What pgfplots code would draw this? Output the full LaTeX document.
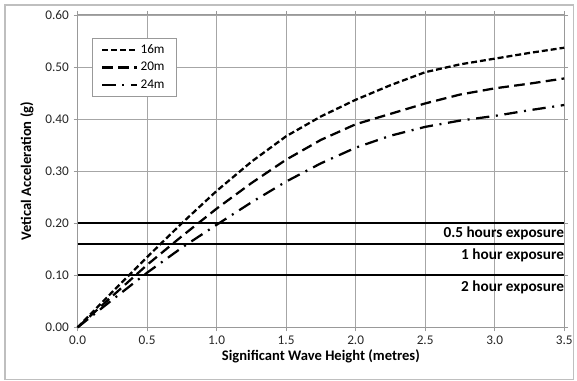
\documentclass[border=0pt]{standalone}
\usepackage{fontspec}
\setmainfont{Carlito}
\usepackage{pgfplots}
\pgfplotsset{compat=1.18}
\begin{document}
\begin{tikzpicture}
\begin{axis}[
  scale only axis,
  width=366.75pt, height=235.5pt,
  xmin=0, xmax=3.5, ymin=0, ymax=0.6,
  xtick={0,0.5,...,3.5}, ytick={0,0.1,...,0.6},
  /pgf/number format/assume math mode=true,
  xticklabel style={/pgf/number format/.cd, fixed, fixed zerofill, precision=1},
  yticklabel style={/pgf/number format/.cd, fixed, fixed zerofill, precision=2},
  tick label style={font=\fontsize{10}{11}\selectfont, color=black!85},
  grid=major,
  grid style={gray!70, line width=0.5pt},
  axis line style={gray!80, line width=0.8pt},
  tick style={gray!80, line width=0.5pt},
  tick align=outside, major tick length=3pt,
  xlabel={\textbf{Significant Wave Height (metres)}},
  ylabel={\textbf{Vetical Acceleration (g)}},
  label style={font=\fontsize{11}{12}\selectfont},
  xlabel style={yshift=3pt},
  ylabel style={yshift=2pt},
  clip=false,
  legend cell align=left,
  legend style={at={(0.0286,0.927)}, anchor=north west, draw=gray!80, line width=0.5pt,
    font=\fontsize{10}{11}\selectfont, row sep=1pt, inner xsep=7pt, inner ysep=3pt},
  legend image code/.code={\draw[#1] (0pt,0pt) -- (26pt,0pt);},
]
\addplot[black, line width=1.7pt, dash pattern=on 4.5pt off 2.25pt] coordinates {
(0,0) (0.25,0.068) (0.5,0.135) (0.75,0.200) (1.0,0.262) (1.25,0.318) (1.5,0.367)
(1.75,0.405) (2.0,0.437) (2.25,0.465) (2.5,0.490) (2.75,0.505) (3.0,0.516) (3.25,0.527) (3.5,0.537)};
\addlegendentry{16m}
\addplot[black, line width=1.7pt, dash pattern=on 8pt off 4pt] coordinates {
(0,0) (0.25,0.060) (0.5,0.120) (0.75,0.175) (1.0,0.228) (1.25,0.277) (1.5,0.322)
(1.75,0.360) (2.0,0.390) (2.25,0.410) (2.5,0.430) (2.75,0.447) (3.0,0.459) (3.25,0.468) (3.5,0.478)};
\addlegendentry{20m}
\addplot[black, line width=1.7pt, dash pattern=on 10pt off 5pt on 1.5pt off 5pt] coordinates {
(0,0) (0.25,0.053) (0.5,0.105) (0.75,0.153) (1.0,0.197) (1.25,0.240) (1.5,0.280)
(1.75,0.315) (2.0,0.345) (2.25,0.368) (2.5,0.385) (2.75,0.397) (3.0,0.406) (3.25,0.417) (3.5,0.427)};
\addlegendentry{24m}
\addplot[black, line width=1.4pt, forget plot] coordinates {(0,0.2) (3.5,0.2)};
\addplot[black, line width=1.4pt, forget plot] coordinates {(0,0.16) (3.5,0.16)};
\addplot[black, line width=1.4pt, forget plot] coordinates {(0,0.1) (3.5,0.1)};
\node[anchor=east, inner sep=0pt, font=\bfseries\fontsize{11.5}{12}\selectfont] at (axis cs:3.5,0.180) {0.5 hours exposure};
\node[anchor=east, inner sep=0pt, font=\bfseries\fontsize{11.5}{12}\selectfont] at (axis cs:3.5,0.138) {1 hour exposure};
\node[anchor=east, inner sep=0pt, font=\bfseries\fontsize{11.5}{12}\selectfont] at (axis cs:3.5,0.076) {2 hour exposure};
\draw[gray!50, line width=0.8pt] ([xshift=-54.75pt,yshift=-39pt]rel axis cs:0,0) rectangle ([xshift=6.75pt,yshift=7.5pt]rel axis cs:1,1);
\path ([xshift=-58.5pt,yshift=-39.75pt]rel axis cs:0,0) rectangle ([xshift=7.5pt,yshift=11.25pt]rel axis cs:1,1);
\end{axis}
\end{tikzpicture}
\end{document}
